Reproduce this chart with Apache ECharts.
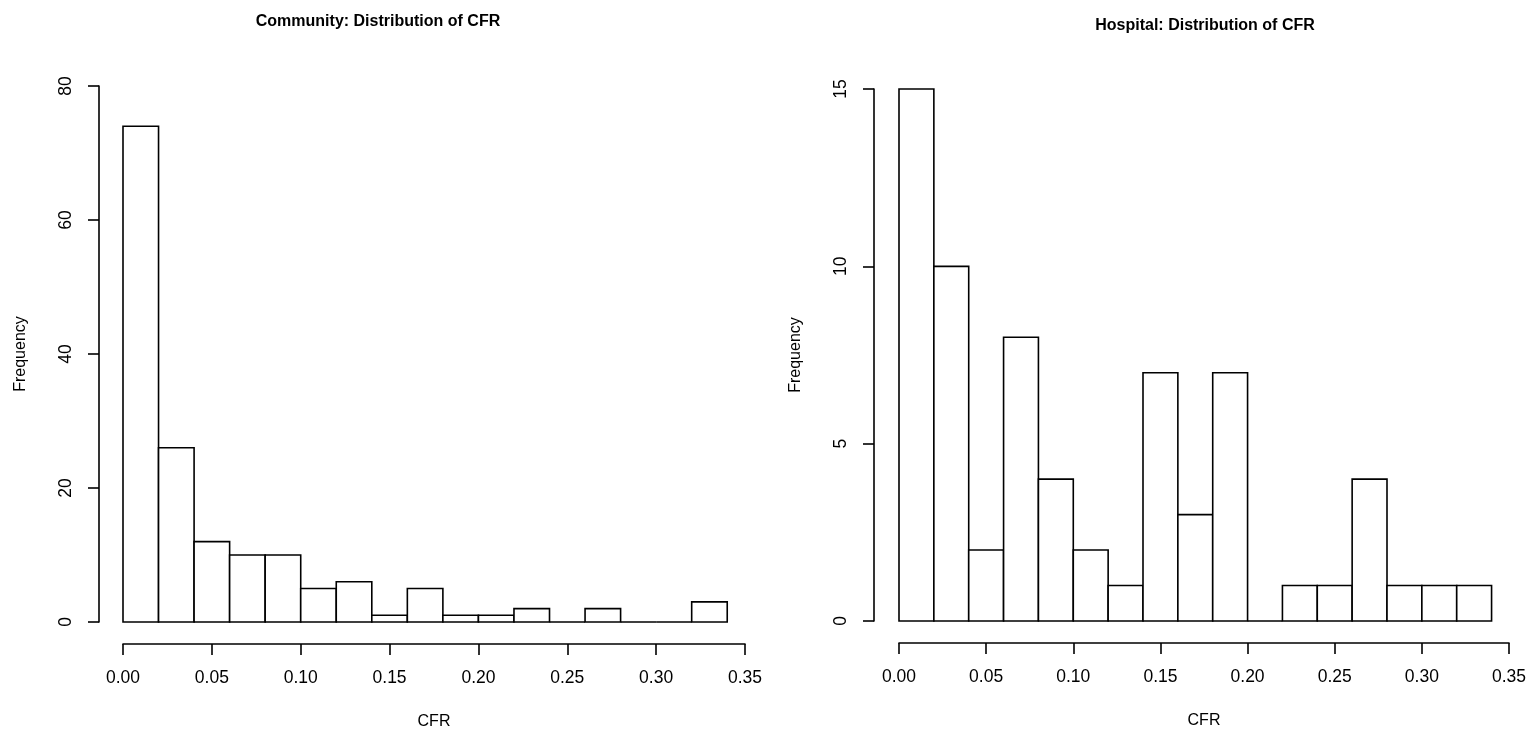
<!DOCTYPE html>
<html>
<head>
<meta charset="utf-8">
<script src="https://cdn.jsdelivr.net/npm/echarts@6/dist/echarts.min.js"></script>
<style>
html, body { margin: 0; padding: 0; background: #fff; }
#chart { width: 1534px; height: 735px; }
</style>
</head>
<body>
<div id="chart"></div>
<script>
// bin edges (CFR), shared by both histograms
const breaks = [0, 0.02, 0.04, 0.06, 0.08, 0.10, 0.12, 0.14, 0.16, 0.18, 0.20, 0.22, 0.24, 0.26, 0.28, 0.30, 0.32, 0.34];
const communityCounts = [74, 26, 12, 10, 10, 5, 6, 1, 5, 1, 1, 2, 0, 2, 0, 0, 3];
const hospitalCounts = [15, 10, 2, 8, 4, 2, 1, 7, 3, 7, 0, 1, 1, 4, 1, 1, 1];
const titles = ['Community: Distribution of CFR', 'Hospital: Distribution of CFR'];
const yMax = [80, 15];
const yStep = [20, 5];

const font = '"Liberation Sans", Arial, Helvetica, sans-serif';
const lw = 1.6;

function toBins(counts) {
    return counts.map((c, i) => [breaks[i], breaks[i + 1], c]);
}

function renderBar(params, api) {
    let p0 = api.coord([api.value(0), 0]);
    let p1 = api.coord([api.value(1), api.value(2)]);
    return {
        type: 'rect',
        shape: { x: p0[0], y: p1[1], width: p1[0] - p0[0], height: p0[1] - p1[1] },
        style: { fill: '#fff', stroke: '#000', lineWidth: lw }
    };
}

// R style axes: detached from the plot region, line only spans the ticks
function xAxisFor(idx) {
    return {
        gridIndex: idx,
        type: 'value',
        min: 0,
        max: 0.35,
        interval: 0.05,
        offset: 22,
        splitLine: { show: false },
        axisLine: { show: true, onZero: false, lineStyle: { color: '#000', width: lw } },
        axisTick: { show: true, length: 11, lineStyle: { color: '#000', width: lw } },
        axisLabel: {
            color: '#000', fontSize: 17.5, fontFamily: font, margin: 25,
            formatter: v => v.toFixed(2)
        },
        name: 'CFR',
        nameLocation: 'middle',
        nameGap: 70,
        nameTextStyle: { color: '#000', fontSize: 16, fontFamily: font }
    };
}

function yAxisFor(idx) {
    return {
        gridIndex: idx,
        type: 'value',
        min: 0,
        max: yMax[idx],
        interval: yStep[idx],
        offset: idx ? 25 : 24,
        splitLine: { show: false },
        axisLine: { show: true, onZero: false, lineStyle: { color: '#000', width: lw } },
        axisTick: { show: true, length: 11, lineStyle: { color: '#000', width: lw } },
        axisLabel: { color: '#000', fontSize: 17.5, fontFamily: font, rotate: 90, margin: 24 },
        name: 'Frequency',
        nameLocation: 'middle',
        nameGap: 70,
        nameTextStyle: { color: '#000', fontSize: 16, fontFamily: font }
    };
}

const chart = echarts.init(document.getElementById('chart'));
chart.setOption({
    backgroundColor: '#fff',
    animation: false,
    title: [
        { text: titles[0], left: 373, top: 9, textAlign: 'center',
          textStyle: { fontSize: 16, fontWeight: 'bold', color: '#000', fontFamily: font } },
        { text: titles[1], left: 1200, top: 13, textAlign: 'center',
          textStyle: { fontSize: 16, fontWeight: 'bold', color: '#000', fontFamily: font } }
    ],
    grid: [
        { left: 123, right: 789, top: 86, bottom: 112 },
        { left: 899, right: 25, top: 89, bottom: 114 }
    ],
    xAxis: [xAxisFor(0), xAxisFor(1)],
    yAxis: [yAxisFor(0), yAxisFor(1)],
    series: [
        {
            type: 'custom', xAxisIndex: 0, yAxisIndex: 0,
            renderItem: renderBar,
            encode: { x: [0, 1], y: 2 },
            data: toBins(communityCounts)
        },
        {
            type: 'custom', xAxisIndex: 1, yAxisIndex: 1,
            renderItem: renderBar,
            encode: { x: [0, 1], y: 2 },
            data: toBins(hospitalCounts)
        }
    ]
});
</script>
</body>
</html>
